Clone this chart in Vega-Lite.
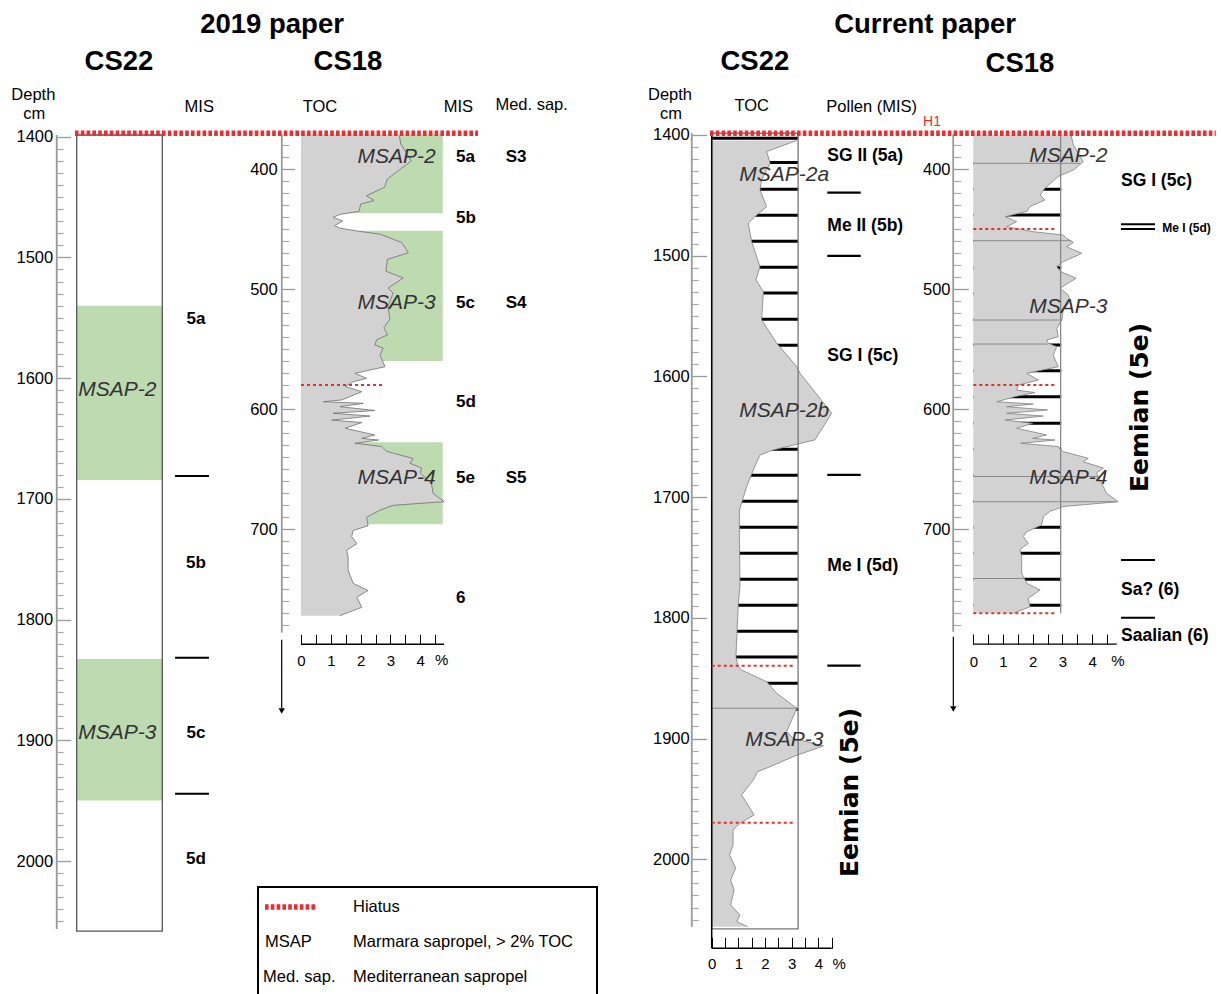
{
"$schema": "https://vega.github.io/schema/vega-lite/v6.json",
"width": 1221, "height": 994,
"autosize": {"type": "none"},
"padding": 0,
"background": "white",
"config": {"view": {"stroke": null}, "text": {"font": "Liberation Sans"}},
"resolve": {"scale": {"x": "independent", "y": "independent"}, "axis": {"x": "independent", "y": "independent"}},
"datasets": {
 "cs18_2019": [
 {"depth": 372, "toc": 3.3}, {"depth": 379, "toc": 3.35}, {"depth": 393, "toc": 3.7}, {"depth": 408, "toc": 2.9}, {"depth": 415, "toc": 2.8}, {"depth": 422, "toc": 2.2}, {"depth": 426, "toc": 2.45}, {"depth": 429, "toc": 2.0}, {"depth": 435, "toc": 1.95}, {"depth": 437.6, "toc": 1.3}, {"depth": 440, "toc": 1.08}, {"depth": 443, "toc": 1.4}, {"depth": 447, "toc": 1.13}, {"depth": 449, "toc": 1.3}, {"depth": 451.5, "toc": 1.9}, {"depth": 454, "toc": 2.65}, {"depth": 461, "toc": 3.38}, {"depth": 469.6, "toc": 3.6}, {"depth": 475, "toc": 2.9}, {"depth": 485, "toc": 2.85}, {"depth": 490.5, "toc": 3.43}, {"depth": 499, "toc": 2.92}, {"depth": 503, "toc": 3.09}, {"depth": 514, "toc": 2.92}, {"depth": 525, "toc": 2.98}, {"depth": 532, "toc": 2.78}, {"depth": 538, "toc": 2.9}, {"depth": 542, "toc": 2.54}, {"depth": 546.4, "toc": 2.48}, {"depth": 549, "toc": 2.76}, {"depth": 554.75, "toc": 2.65}, {"depth": 564.5, "toc": 2.82}, {"depth": 570, "toc": 1.81}, {"depth": 574.2, "toc": 2.2}, {"depth": 577, "toc": 1.76}, {"depth": 581, "toc": 1.48}, {"depth": 585.3, "toc": 2.04}, {"depth": 592.2, "toc": 1.37}, {"depth": 593.7, "toc": 0.75}, {"depth": 595, "toc": 2.09}, {"depth": 597.8, "toc": 1.31}, {"depth": 601, "toc": 2.48}, {"depth": 603.3, "toc": 1.08}, {"depth": 605.6, "toc": 2.32}, {"depth": 609, "toc": 1.03}, {"depth": 611, "toc": 2.04}, {"depth": 615.8, "toc": 1.48}, {"depth": 621.4, "toc": 2.48}, {"depth": 624.2, "toc": 2.04}, {"depth": 625.6, "toc": 2.6}, {"depth": 628.3, "toc": 1.81}, {"depth": 631, "toc": 2.71}, {"depth": 635, "toc": 2.87}, {"depth": 641, "toc": 3.76}, {"depth": 645, "toc": 3.66}, {"depth": 649, "toc": 4.05}, {"depth": 653, "toc": 4.0}, {"depth": 662, "toc": 4.38}, {"depth": 670, "toc": 4.43}, {"depth": 677, "toc": 4.8}, {"depth": 680, "toc": 3.1}, {"depth": 684, "toc": 2.65}, {"depth": 690, "toc": 2.2}, {"depth": 697, "toc": 2.25}, {"depth": 701, "toc": 1.75}, {"depth": 706, "toc": 1.7}, {"depth": 712, "toc": 1.87}, {"depth": 717.5, "toc": 1.53}, {"depth": 723, "toc": 1.58}, {"depth": 734, "toc": 1.58}, {"depth": 745, "toc": 1.75}, {"depth": 751, "toc": 2.25}, {"depth": 756.6, "toc": 1.87}, {"depth": 765, "toc": 2.04}, {"depth": 772, "toc": 1.3}],
 "cs22_now": [
 {"depth": 1404.5, "toc": 3.19}, {"depth": 1413.8, "toc": 2.06}, {"depth": 1423.4, "toc": 2.19}, {"depth": 1437.3, "toc": 1.87}, {"depth": 1445.6, "toc": 1.81}, {"depth": 1459.4, "toc": 2.06}, {"depth": 1466.3, "toc": 1.69}, {"depth": 1473.1, "toc": 1.37}, {"depth": 1488.4, "toc": 1.5}, {"depth": 1509.1, "toc": 1.81}, {"depth": 1520.1, "toc": 1.66}, {"depth": 1529.8, "toc": 1.94}, {"depth": 1553.2, "toc": 1.87}, {"depth": 1572.6, "toc": 2.44}, {"depth": 1591.9, "toc": 3.19}, {"depth": 1597.4, "toc": 3.31}, {"depth": 1611.2, "toc": 3.81}, {"depth": 1630.5, "toc": 4.5}, {"depth": 1652.6, "toc": 3.87}, {"depth": 1660.9, "toc": 2.31}, {"depth": 1665.1, "toc": 1.81}, {"depth": 1677.5, "toc": 1.56}, {"depth": 1691.3, "toc": 1.31}, {"depth": 1710.6, "toc": 1.04}, {"depth": 1732.8, "toc": 1.04}, {"depth": 1774.2, "toc": 1.06}, {"depth": 1787.7, "toc": 1.0}, {"depth": 1815.6, "toc": 0.94}, {"depth": 1832.2, "toc": 0.91}, {"depth": 1840.4, "toc": 0.99}, {"depth": 1843.2, "toc": 1.12}, {"depth": 1852.9, "toc": 2.06}, {"depth": 1862.5, "toc": 2.44}, {"depth": 1874.9, "toc": 3.19}, {"depth": 1884.6, "toc": 3.0}, {"depth": 1894.3, "toc": 2.81}, {"depth": 1899.8, "toc": 3.05}, {"depth": 1906.1, "toc": 4.19}, {"depth": 1915, "toc": 3.05}, {"depth": 1923.3, "toc": 2.19}, {"depth": 1927.4, "toc": 1.72}, {"depth": 1934.3, "toc": 1.56}, {"depth": 1946.7, "toc": 1.12}, {"depth": 1963.3, "toc": 1.59}, {"depth": 1970.2, "toc": 1.06}, {"depth": 1975.7, "toc": 0.8}, {"depth": 1988.2, "toc": 0.8}, {"depth": 1996.5, "toc": 0.67}, {"depth": 2007.4, "toc": 0.9}, {"depth": 2017.1, "toc": 0.71}, {"depth": 2025.4, "toc": 0.84}, {"depth": 2037.9, "toc": 0.71}, {"depth": 2046.2, "toc": 1.06}, {"depth": 2051.7, "toc": 0.94}, {"depth": 2055.8, "toc": 1.35}],
 "cs18_now": [
 {"depth": 371.4, "toc": 3.29}, {"depth": 379.7, "toc": 3.37}, {"depth": 393.7, "toc": 3.7}, {"depth": 400.6, "toc": 3.37}, {"depth": 406, "toc": 2.86}, {"depth": 415.8, "toc": 2.41}, {"depth": 421.4, "toc": 2.25}, {"depth": 425.6, "toc": 2.41}, {"depth": 431, "toc": 1.91}, {"depth": 435, "toc": 1.8}, {"depth": 439.5, "toc": 1.07}, {"depth": 443.7, "toc": 1.46}, {"depth": 447.8, "toc": 1.12}, {"depth": 452, "toc": 2.02}, {"depth": 454.8, "toc": 3.03}, {"depth": 457.5, "toc": 3.14}, {"depth": 461, "toc": 3.37}, {"depth": 464.5, "toc": 3.14}, {"depth": 470, "toc": 3.65}, {"depth": 477, "toc": 3.03}, {"depth": 481, "toc": 2.81}, {"depth": 485, "toc": 2.92}, {"depth": 490.8, "toc": 3.46}, {"depth": 499, "toc": 2.92}, {"depth": 504.8, "toc": 3.2}, {"depth": 510, "toc": 3.26}, {"depth": 517, "toc": 3.03}, {"depth": 525.6, "toc": 2.98}, {"depth": 532.5, "toc": 2.81}, {"depth": 539.5, "toc": 2.86}, {"depth": 542.25, "toc": 2.47}, {"depth": 545, "toc": 2.53}, {"depth": 547.8, "toc": 2.81}, {"depth": 554.75, "toc": 2.69}, {"depth": 564.5, "toc": 2.86}, {"depth": 570, "toc": 1.8}, {"depth": 575.6, "toc": 2.19}, {"depth": 579.75, "toc": 1.52}, {"depth": 584, "toc": 1.46}, {"depth": 586, "toc": 2.08}, {"depth": 589.5, "toc": 1.4}, {"depth": 593.7, "toc": 0.79}, {"depth": 595.6, "toc": 2.02}, {"depth": 597.8, "toc": 1.12}, {"depth": 600.6, "toc": 2.5}, {"depth": 603.3, "toc": 1.12}, {"depth": 605.6, "toc": 2.36}, {"depth": 609, "toc": 1.07}, {"depth": 611.7, "toc": 2.0}, {"depth": 615.8, "toc": 1.46}, {"depth": 621.4, "toc": 2.47}, {"depth": 624.2, "toc": 2.0}, {"depth": 625.6, "toc": 2.75}, {"depth": 628.3, "toc": 1.6}, {"depth": 631, "toc": 2.86}, {"depth": 633, "toc": 2.92}, {"depth": 635.3, "toc": 3.03}, {"depth": 640.8, "toc": 3.87}, {"depth": 643.7, "toc": 3.7}, {"depth": 649, "toc": 4.38}, {"depth": 653, "toc": 4.15}, {"depth": 661.7, "toc": 4.32}, {"depth": 670, "toc": 4.49}, {"depth": 677, "toc": 4.88}, {"depth": 681, "toc": 3.03}, {"depth": 685, "toc": 2.58}, {"depth": 689.5, "toc": 2.36}, {"depth": 696.4, "toc": 2.3}, {"depth": 702, "toc": 1.8}, {"depth": 706, "toc": 1.68}, {"depth": 711.7, "toc": 1.85}, {"depth": 717, "toc": 1.57}, {"depth": 722.8, "toc": 1.63}, {"depth": 736.7, "toc": 1.63}, {"depth": 745, "toc": 1.8}, {"depth": 750.6, "toc": 2.25}, {"depth": 757.5, "toc": 1.85}, {"depth": 764.5, "toc": 1.91}, {"depth": 770, "toc": 1.35}]
},
"layer": [
{"data": {"values": [{"unit": "MSAP-2", "top": 1540, "bottom": 1684.4}, {"unit": "MSAP-3", "top": 1832.7, "bottom": 1949.8}]},
 "mark": {"type": "rect", "color": "#bddab1"},
 "encoding": {"x": {"datum": 0, "type": "quantitative", "scale": {"domain": [-0.896, 13.368], "nice": false, "zero": false}, "axis": null}, "x2": {"datum": 1},
  "y": {"field": "top", "type": "quantitative", "scale": {"domain": [1286.8, 2110.1], "reverse": true, "nice": false, "zero": false}, "axis": null}, "y2": {"field": "bottom"}}},
{"data": {"values": [{"top": 1398.6, "bottom": 2058}]},
 "mark": {"type": "rect", "fillOpacity": 0, "stroke": "#555555", "strokeWidth": 1.3},
 "encoding": {"x": {"datum": 0, "type": "quantitative", "scale": {"domain": [-0.896, 13.368], "nice": false, "zero": false}, "axis": null}, "x2": {"datum": 1},
  "y": {"field": "top", "type": "quantitative", "scale": {"domain": [1286.8, 2110.1], "reverse": true, "nice": false, "zero": false}, "axis": null}, "y2": {"field": "bottom"}}},
{"data": {"values": [{"label": "MSAP-2", "depth": 1609.8}, {"label": "MSAP-3", "depth": 1893.7}]},
 "mark": {"type": "text", "fontStyle": "italic", "fontSize": 21, "color": "#333333", "align": "center", "baseline": "middle"},
 "encoding": {"x": {"datum": 0.475, "type": "quantitative", "scale": {"domain": [-0.896, 13.368], "nice": false, "zero": false}, "axis": null},
  "y": {"field": "depth", "type": "quantitative", "scale": {"domain": [1286.8, 2110.1], "reverse": true, "nice": false, "zero": false}, "axis": null}, "text": {"field": "label"}}},
{"data": {"values": [{"label": "5a", "depth": 1551.3}, {"label": "5b", "depth": 1753.1}, {"label": "5c", "depth": 1893.7}, {"label": "5d", "depth": 1998.6}]},
 "mark": {"type": "text", "fontWeight": "bold", "fontSize": 17, "color": "#000000", "align": "center", "baseline": "middle"},
 "encoding": {"x": {"datum": 1.394, "type": "quantitative", "scale": {"domain": [-0.896, 13.368], "nice": false, "zero": false}, "axis": null},
  "y": {"field": "depth", "type": "quantitative", "scale": {"domain": [1286.8, 2110.1], "reverse": true, "nice": false, "zero": false}, "axis": null}, "text": {"field": "label"}}},
{"data": {"values": [{"depth": 1681.1}, {"depth": 1831.5}, {"depth": 1944.2}]},
 "mark": {"type": "rule", "color": "#000000", "strokeWidth": 2},
 "encoding": {"x": {"datum": 1.149, "type": "quantitative", "scale": {"domain": [-0.896, 13.368], "nice": false, "zero": false}, "axis": null}, "x2": {"datum": 1.545},
  "y": {"field": "depth", "type": "quantitative", "scale": {"domain": [1286.8, 2110.1], "reverse": true, "nice": false, "zero": false}, "axis": null}}},
{"data": {"values": [{"top": 1398.6, "bottom": 2056.3}]},
 "mark": {"type": "rule", "color": "#9a9a9a", "strokeWidth": 1.5},
 "encoding": {"x": {"datum": -0.234, "type": "quantitative", "scale": {"domain": [-0.896, 13.368], "nice": false, "zero": false}, "axis": null},
  "y": {"field": "top", "type": "quantitative", "scale": {"domain": [1286.8, 2110.1], "reverse": true, "nice": false, "zero": false},
   "axis": {"orient": "left", "offset": -56.7, "domain": false, "grid": false, "values": [1400, 1500, 1600, 1700, 1800, 1900, 2000], "tickSize": -14, "tickColor": "#9a9a9a", "tickWidth": 1.3, "labelPadding": 18, "labelFontSize": 16.5, "labelFont": "Liberation Sans", "labelColor": "#000000", "format": "d", "title": null, "labelOverlap": false, "labelFlush": false}},
  "y2": {"field": "bottom"}}},
{"data": {"values": [{"top": 1398.6, "bottom": 2056.3}]},
 "mark": {"type": "rule", "color": "#9a9a9a", "strokeWidth": 1.5},
 "encoding": {"x": {"datum": -0.234, "type": "quantitative", "scale": {"domain": [-0.896, 13.368], "nice": false, "zero": false}, "axis": null},
  "y": {"field": "top", "type": "quantitative", "scale": {"domain": [1286.8, 2110.1], "reverse": true, "nice": false, "zero": false},
   "axis": {"orient": "left", "offset": -56.7, "domain": false, "grid": false, "values": [1410,1420,1430,1440,1450,1460,1470,1480,1490,1510,1520,1530,1540,1550,1560,1570,1580,1590,1610,1620,1630,1640,1650,1660,1670,1680,1690,1710,1720,1730,1740,1750,1760,1770,1780,1790,1810,1820,1830,1840,1850,1860,1870,1880,1890,1910,1920,1930,1940,1950,1960,1970,1980,1990,2010,2020,2030,2040,2050], "tickSize": -6.5, "tickColor": "#aaaaaa", "tickWidth": 1.2, "labels": false, "title": null}},
  "y2": {"field": "bottom"}}},
{"data": {"values": [{"label": "Depth", "pos": -0.507, "depth": 1365.5}, {"label": "cm", "pos": -0.495, "depth": 1381.4}, {"label": "MIS", "pos": 1.432, "depth": 1375.1}, {"label": "TOC", "pos": 2.842, "depth": 1375.1}, {"label": "MIS", "pos": 4.458, "depth": 1375.1}, {"label": "Med. sap.", "pos": 5.315, "depth": 1373.7}]},
 "mark": {"type": "text", "fontSize": 16.5, "color": "#000000", "align": "center", "baseline": "middle"},
 "encoding": {"x": {"field": "pos", "type": "quantitative", "scale": {"domain": [-0.896, 13.368], "nice": false, "zero": false}, "axis": null},
  "y": {"field": "depth", "type": "quantitative", "scale": {"domain": [1286.8, 2110.1], "reverse": true, "nice": false, "zero": false}, "axis": null}, "text": {"field": "label"}}},
{"data": {"values": [{"label": "2019 paper", "pos": 2.282, "depth": 1307.5}, {"label": "CS22", "pos": 0.494, "depth": 1338.1}, {"label": "CS18", "pos": 3.169, "depth": 1338.1}]},
 "mark": {"type": "text", "fontWeight": "bold", "fontSize": 27.5, "color": "#000000", "align": "center", "baseline": "middle"},
 "encoding": {"x": {"field": "pos", "type": "quantitative", "scale": {"domain": [-0.896, 13.368], "nice": false, "zero": false}, "axis": null},
  "y": {"field": "depth", "type": "quantitative", "scale": {"domain": [1286.8, 2110.1], "reverse": true, "nice": false, "zero": false}, "axis": null}, "text": {"field": "label"}}},

{"data": {"values": [{"unit": "MSAP-2", "top": 371, "bottom": 436.7}, {"unit": "MSAP-3", "top": 451.2, "bottom": 559.75}, {"unit": "MSAP-4", "top": 627.5, "bottom": 695.8}]},
 "mark": {"type": "rect", "color": "#bddab1"},
 "encoding": {"x": {"datum": 0, "type": "quantitative", "scale": {"domain": [-10.101, 30.872], "nice": false, "zero": false}, "axis": null}, "x2": {"datum": 4.755},
  "y": {"field": "top", "type": "quantitative", "scale": {"domain": [258.9, 1087.25], "reverse": true, "nice": false, "zero": false}, "axis": null}, "y2": {"field": "bottom"}}},
{"data": {"name": "cs18_2019"},
 "mark": {"type": "area", "orient": "horizontal", "color": "#d2d2d2", "opacity": 1},
 "encoding": {"x": {"field": "toc", "type": "quantitative", "scale": {"domain": [-10.101, 30.872], "nice": false, "zero": false}, "axis": null},
  "y": {"field": "depth", "type": "quantitative", "scale": {"domain": [258.9, 1087.25], "reverse": true, "nice": false, "zero": false}, "axis": null}}},
{"data": {"name": "cs18_2019"},
 "mark": {"type": "line", "color": "#707070", "strokeWidth": 0.8},
 "encoding": {"x": {"field": "toc", "type": "quantitative", "scale": {"domain": [-10.101, 30.872], "nice": false, "zero": false}, "axis": null},
  "y": {"field": "depth", "type": "quantitative", "scale": {"domain": [258.9, 1087.25], "reverse": true, "nice": false, "zero": false}, "axis": null},
  "order": {"field": "depth", "type": "quantitative"}}},
{"data": {"values": [{"depth": 579.75}]},
 "mark": {"type": "rule", "color": "#e8302a", "strokeWidth": 2, "strokeDash": [3, 3]},
 "encoding": {"x": {"datum": 0, "type": "quantitative", "scale": {"domain": [-10.101, 30.872], "nice": false, "zero": false}, "axis": null}, "x2": {"datum": 2.79},
  "y": {"field": "depth", "type": "quantitative", "scale": {"domain": [258.9, 1087.25], "reverse": true, "nice": false, "zero": false}, "axis": null}}},
{"data": {"values": [{"label": "MSAP-2", "depth": 390}, {"label": "MSAP-3", "depth": 511.7}, {"label": "MSAP-4", "depth": 657.5}]},
 "mark": {"type": "text", "fontStyle": "italic", "fontSize": 21, "color": "#333333", "align": "center", "baseline": "middle"},
 "encoding": {"x": {"datum": 3.21, "type": "quantitative", "scale": {"domain": [-10.101, 30.872], "nice": false, "zero": false}, "axis": null},
  "y": {"field": "depth", "type": "quantitative", "scale": {"domain": [258.9, 1087.25], "reverse": true, "nice": false, "zero": false}, "axis": null}, "text": {"field": "label"}}},
{"data": {"values": [{"label": "5a", "depth": 390}, {"label": "5b", "depth": 440.8}, {"label": "5c", "depth": 511.7}, {"label": "5d", "depth": 594.2}, {"label": "5e", "depth": 657.5}, {"label": "6", "depth": 757.5}]},
 "mark": {"type": "text", "fontWeight": "bold", "fontSize": 17, "color": "#000000", "align": "left", "baseline": "middle"},
 "encoding": {"x": {"datum": 5.201, "type": "quantitative", "scale": {"domain": [-10.101, 30.872], "nice": false, "zero": false}, "axis": null},
  "y": {"field": "depth", "type": "quantitative", "scale": {"domain": [258.9, 1087.25], "reverse": true, "nice": false, "zero": false}, "axis": null}, "text": {"field": "label"}}},
{"data": {"values": [{"label": "S3", "depth": 390}, {"label": "S4", "depth": 511.7}, {"label": "S5", "depth": 657.5}]},
 "mark": {"type": "text", "fontWeight": "bold", "fontSize": 17, "color": "#000000", "align": "center", "baseline": "middle"},
 "encoding": {"x": {"datum": 7.215, "type": "quantitative", "scale": {"domain": [-10.101, 30.872], "nice": false, "zero": false}, "axis": null},
  "y": {"field": "depth", "type": "quantitative", "scale": {"domain": [258.9, 1087.25], "reverse": true, "nice": false, "zero": false}, "axis": null}, "text": {"field": "label"}}},
{"data": {"values": [{"top": 371, "bottom": 786}]},
 "mark": {"type": "rule", "color": "#9a9a9a", "strokeWidth": 1.5},
 "encoding": {"x": {"datum": -0.648, "type": "quantitative", "scale": {"domain": [-10.101, 30.872], "nice": false, "zero": false}, "axis": null},
  "y": {"field": "top", "type": "quantitative", "scale": {"domain": [258.9, 1087.25], "reverse": true, "nice": false, "zero": false},
   "axis": {"orient": "left", "offset": -281.7, "domain": false, "grid": false, "values": [400, 500, 600, 700], "tickSize": -13, "tickColor": "#9a9a9a", "tickWidth": 1.3, "labelPadding": 17.5, "labelFontSize": 16.5, "labelFont": "Liberation Sans", "labelColor": "#000000", "format": "d", "title": null, "labelOverlap": false, "labelFlush": false}},
  "y2": {"field": "bottom"}}},
{"data": {"values": [{"top": 371, "bottom": 786}]},
 "mark": {"type": "rule", "color": "#9a9a9a", "strokeWidth": 1.5},
 "encoding": {"x": {"datum": -0.648, "type": "quantitative", "scale": {"domain": [-10.101, 30.872], "nice": false, "zero": false}, "axis": null},
  "y": {"field": "top", "type": "quantitative", "scale": {"domain": [258.9, 1087.25], "reverse": true, "nice": false, "zero": false},
   "axis": {"orient": "left", "offset": -281.7, "domain": false, "grid": false, "values": [380,390,410,420,430,440,450,460,470,480,490,510,520,530,540,550,560,570,580,590,610,620,630,640,650,660,670,680,690,710,720,730,740,750,760,770,780], "tickSize": -7, "tickColor": "#aaaaaa", "tickWidth": 1.2, "labels": false, "title": null}},
  "y2": {"field": "bottom"}}},
{"data": {"values": [{"from": 0, "to": 4.8, "depth": 795.8}]},
 "mark": {"type": "rule", "color": "#000000", "strokeWidth": 1.3},
 "encoding": {"x": {"field": "from", "type": "quantitative", "scale": {"domain": [-10.101, 30.872], "nice": false, "zero": false},
   "axis": {"orient": "bottom", "offset": -349.7, "domain": false, "grid": false, "values": [0, 0.5, 1, 1.5, 2, 2.5, 3, 3.5, 4, 4.5], "tickSize": -10, "tickColor": "#000000", "tickWidth": 1, "labelPadding": 19.2, "labelFontSize": 15, "labelFont": "Liberation Sans", "labelColor": "#000000", "labelExpr": "datum.value % 1 === 0 ? format(datum.value, 'd') : ''", "title": null, "labelOverlap": false, "labelFlush": false}},
  "x2": {"field": "to"},
  "y": {"field": "depth", "type": "quantitative", "scale": {"domain": [258.9, 1087.25], "reverse": true, "nice": false, "zero": false}, "axis": null}}},
{"data": {"values": [{"label": "%", "depth": 809.3}]},
 "mark": {"type": "text", "fontSize": 15, "color": "#000000", "align": "center", "baseline": "middle"},
 "encoding": {"x": {"datum": 4.72, "type": "quantitative", "scale": {"domain": [-10.101, 30.872], "nice": false, "zero": false}, "axis": null},
  "y": {"field": "depth", "type": "quantitative", "scale": {"domain": [258.9, 1087.25], "reverse": true, "nice": false, "zero": false}, "axis": null}, "text": {"field": "label"}}},
{"data": {"values": [{"top": 792, "bottom": 849}]},
 "mark": {"type": "rule", "color": "#000000", "strokeWidth": 1.2},
 "encoding": {"x": {"datum": -0.648, "type": "quantitative", "scale": {"domain": [-10.101, 30.872], "nice": false, "zero": false}, "axis": null},
  "y": {"field": "top", "type": "quantitative", "scale": {"domain": [258.9, 1087.25], "reverse": true, "nice": false, "zero": false}, "axis": null}, "y2": {"field": "bottom"}}},
{"data": {"values": [{"depth": 851.4}]},
 "mark": {"type": "point", "shape": "triangle-down", "filled": true, "size": 40, "color": "#000000", "opacity": 1},
 "encoding": {"x": {"datum": -0.648, "type": "quantitative", "scale": {"domain": [-10.101, 30.872], "nice": false, "zero": false}, "axis": null},
  "y": {"field": "depth", "type": "quantitative", "scale": {"domain": [258.9, 1087.25], "reverse": true, "nice": false, "zero": false}, "axis": null}}},

{"data": {"values": [{"depth": 1402.7}, {"depth": 1422.9}, {"depth": 1445.0}, {"depth": 1466.5}, {"depth": 1488.1}, {"depth": 1509.6}, {"depth": 1530.9}, {"depth": 1552.7}, {"depth": 1574.2}, {"depth": 1595.5}, {"depth": 1617.1}, {"depth": 1638.6}, {"depth": 1660.4}, {"depth": 1681.9}, {"depth": 1703.4}, {"depth": 1725.0}, {"depth": 1746.5}, {"depth": 1768.0}, {"depth": 1789.6}, {"depth": 1811.1}, {"depth": 1832.4}, {"depth": 1854.2}, {"depth": 1875.7}]},
 "mark": {"type": "rule", "color": "#000000", "strokeWidth": 3},
 "encoding": {"x": {"datum": 0, "type": "quantitative", "scale": {"domain": [-26.686, 19.097], "nice": false, "zero": false}, "axis": null}, "x2": {"datum": 3.24},
  "y": {"field": "depth", "type": "quantitative", "scale": {"domain": [1288.2, 2111.6], "reverse": true, "nice": false, "zero": false}, "axis": null}}},
{"data": {"name": "cs22_now"},
 "mark": {"type": "area", "orient": "horizontal", "color": "#d2d2d2", "opacity": 1},
 "encoding": {"x": {"field": "toc", "type": "quantitative", "scale": {"domain": [-26.686, 19.097], "nice": false, "zero": false}, "axis": null},
  "y": {"field": "depth", "type": "quantitative", "scale": {"domain": [1288.2, 2111.6], "reverse": true, "nice": false, "zero": false}, "axis": null}}},
{"data": {"name": "cs22_now"},
 "mark": {"type": "line", "color": "#808080", "strokeWidth": 0.8},
 "encoding": {"x": {"field": "toc", "type": "quantitative", "scale": {"domain": [-26.686, 19.097], "nice": false, "zero": false}, "axis": null},
  "y": {"field": "depth", "type": "quantitative", "scale": {"domain": [1288.2, 2111.6], "reverse": true, "nice": false, "zero": false}, "axis": null},
  "order": {"field": "depth", "type": "quantitative"}}},
{"data": {"values": [{"depth": 1874.9, "toc": 3.19}]},
 "mark": {"type": "rule", "color": "#8a8a8a", "strokeWidth": 1},
 "encoding": {"x": {"field": "toc", "type": "quantitative", "scale": {"domain": [-26.686, 19.097], "nice": false, "zero": false}, "axis": null}, "x2": {"datum": 0},
  "y": {"field": "depth", "type": "quantitative", "scale": {"domain": [1288.2, 2111.6], "reverse": true, "nice": false, "zero": false}, "axis": null}}},
{"data": {"values": [{"top": 1398.6, "bottom": 2057.7}]},
 "mark": {"type": "rect", "fillOpacity": 0, "stroke": "#777777", "strokeWidth": 1.3},
 "encoding": {"x": {"datum": 0, "type": "quantitative", "scale": {"domain": [-26.686, 19.097], "nice": false, "zero": false}, "axis": null}, "x2": {"datum": 3.24},
  "y": {"field": "top", "type": "quantitative", "scale": {"domain": [1288.2, 2111.6], "reverse": true, "nice": false, "zero": false}, "axis": null}, "y2": {"field": "bottom"}}},
{"data": {"values": [{"top": 1398.6, "bottom": 2073.7}]},
 "mark": {"type": "rule", "color": "#000000", "strokeWidth": 1.5},
 "encoding": {"x": {"datum": 0, "type": "quantitative", "scale": {"domain": [-26.686, 19.097], "nice": false, "zero": false}, "axis": null},
  "y": {"field": "top", "type": "quantitative", "scale": {"domain": [1288.2, 2111.6], "reverse": true, "nice": false, "zero": false}, "axis": null}, "y2": {"field": "bottom"}}},
{"data": {"values": [{"depth": 1839.6}, {"depth": 1969.7}]},
 "mark": {"type": "rule", "color": "#e8302a", "strokeWidth": 2, "strokeDash": [3, 3]},
 "encoding": {"x": {"datum": 0, "type": "quantitative", "scale": {"domain": [-26.686, 19.097], "nice": false, "zero": false}, "axis": null}, "x2": {"datum": 3.12},
  "y": {"field": "depth", "type": "quantitative", "scale": {"domain": [1288.2, 2111.6], "reverse": true, "nice": false, "zero": false}, "axis": null}}},
{"data": {"values": [{"label": "MSAP-2a", "depth": 1433.1}, {"label": "MSAP-2b", "depth": 1628.4}, {"label": "MSAP-3", "depth": 1901.2}]},
 "mark": {"type": "text", "fontStyle": "italic", "fontSize": 21, "color": "#333333", "align": "center", "baseline": "middle"},
 "encoding": {"x": {"datum": 2.72, "type": "quantitative", "scale": {"domain": [-26.686, 19.097], "nice": false, "zero": false}, "axis": null},
  "y": {"field": "depth", "type": "quantitative", "scale": {"domain": [1288.2, 2111.6], "reverse": true, "nice": false, "zero": false}, "axis": null}, "text": {"field": "label"}}},
{"data": {"values": [{"label": "SG II (5a)", "depth": 1417.4}, {"label": "Me II (5b)", "depth": 1475.4}, {"label": "SG I (5c)", "depth": 1583.1}, {"label": "Me I (5d)", "depth": 1757}]},
 "mark": {"type": "text", "fontWeight": "bold", "fontSize": 17.5, "color": "#000000", "align": "left", "baseline": "middle"},
 "encoding": {"x": {"datum": 4.335, "type": "quantitative", "scale": {"domain": [-26.686, 19.097], "nice": false, "zero": false}, "axis": null},
  "y": {"field": "depth", "type": "quantitative", "scale": {"domain": [1288.2, 2111.6], "reverse": true, "nice": false, "zero": false}, "axis": null}, "text": {"field": "label"}}},
{"data": {"values": [{"depth": 1447.8}, {"depth": 1500.2}, {"depth": 1681.6}, {"depth": 1839.6}]},
 "mark": {"type": "rule", "color": "#000000", "strokeWidth": 2.2},
 "encoding": {"x": {"datum": 4.335, "type": "quantitative", "scale": {"domain": [-26.686, 19.097], "nice": false, "zero": false}, "axis": null}, "x2": {"datum": 5.587},
  "y": {"field": "depth", "type": "quantitative", "scale": {"domain": [1288.2, 2111.6], "reverse": true, "nice": false, "zero": false}, "axis": null}}},
{"data": {"values": [{"label": "Eemian (5e)", "depth": 1944.6}]},
 "mark": {"type": "text", "angle": 270, "font": "DejaVu Sans", "fontWeight": "bold", "fontSize": 25, "color": "#000000", "align": "center", "baseline": "middle"},
 "encoding": {"x": {"datum": 5.186, "type": "quantitative", "scale": {"domain": [-26.686, 19.097], "nice": false, "zero": false}, "axis": null},
  "y": {"field": "depth", "type": "quantitative", "scale": {"domain": [1288.2, 2111.6], "reverse": true, "nice": false, "zero": false}, "axis": null}, "text": {"field": "label"}}},
{"data": {"values": [{"top": 1398.6, "bottom": 2055.8}]},
 "mark": {"type": "rule", "color": "#9a9a9a", "strokeWidth": 1.5},
 "encoding": {"x": {"datum": -0.75, "type": "quantitative", "scale": {"domain": [-26.686, 19.097], "nice": false, "zero": false}, "axis": null},
  "y": {"field": "top", "type": "quantitative", "scale": {"domain": [1288.2, 2111.6], "reverse": true, "nice": false, "zero": false},
   "axis": {"orient": "left", "offset": -691.7, "domain": false, "grid": false, "values": [1400, 1500, 1600, 1700, 1800, 1900, 2000], "tickSize": -15, "tickColor": "#9a9a9a", "tickWidth": 1.3, "labelPadding": 17.5, "labelFontSize": 16.5, "labelFont": "Liberation Sans", "labelColor": "#000000", "format": "d", "title": null, "labelOverlap": false, "labelFlush": false}},
  "y2": {"field": "bottom"}}},
{"data": {"values": [{"top": 1398.6, "bottom": 2055.8}]},
 "mark": {"type": "rule", "color": "#9a9a9a", "strokeWidth": 1.5},
 "encoding": {"x": {"datum": -0.75, "type": "quantitative", "scale": {"domain": [-26.686, 19.097], "nice": false, "zero": false}, "axis": null},
  "y": {"field": "top", "type": "quantitative", "scale": {"domain": [1288.2, 2111.6], "reverse": true, "nice": false, "zero": false},
   "axis": {"orient": "left", "offset": -691.7, "domain": false, "grid": false, "values": [1410,1420,1430,1440,1450,1460,1470,1480,1490,1510,1520,1530,1540,1550,1560,1570,1580,1590,1610,1620,1630,1640,1650,1660,1670,1680,1690,1710,1720,1730,1740,1750,1760,1770,1780,1790,1810,1820,1830,1840,1850,1860,1870,1880,1890,1910,1920,1930,1940,1950,1960,1970,1980,1990,2010,2020,2030,2040,2050], "tickSize": -6.5, "tickColor": "#aaaaaa", "tickWidth": 1.2, "labels": false, "title": null}},
  "y2": {"field": "bottom"}}},
{"data": {"values": [{"from": 0, "to": 4.5, "depth": 2073.7}]},
 "mark": {"type": "rule", "color": "#000000", "strokeWidth": 1.3},
 "encoding": {"x": {"field": "from", "type": "quantitative", "scale": {"domain": [-26.686, 19.097], "nice": false, "zero": false},
   "axis": {"orient": "bottom", "offset": -45.7, "domain": false, "grid": false, "values": [0, 0.5, 1, 1.5, 2, 2.5, 3, 3.5, 4, 4.5], "tickSize": -11, "tickColor": "#000000", "tickWidth": 1, "labelPadding": 19.6, "labelFontSize": 15, "labelFont": "Liberation Sans", "labelColor": "#000000", "labelExpr": "datum.value % 1 === 0 ? format(datum.value, 'd') : ''", "title": null, "labelOverlap": false, "labelFlush": false}},
  "x2": {"field": "to"},
  "y": {"field": "depth", "type": "quantitative", "scale": {"domain": [1288.2, 2111.6], "reverse": true, "nice": false, "zero": false}, "axis": null}}},
{"data": {"values": [{"label": "%", "depth": 2086.5}]},
 "mark": {"type": "text", "fontSize": 15, "color": "#000000", "align": "center", "baseline": "middle"},
 "encoding": {"x": {"datum": 4.78, "type": "quantitative", "scale": {"domain": [-26.686, 19.097], "nice": false, "zero": false}, "axis": null},
  "y": {"field": "depth", "type": "quantitative", "scale": {"domain": [1288.2, 2111.6], "reverse": true, "nice": false, "zero": false}, "axis": null}, "text": {"field": "label"}}},
{"data": {"values": [{"label": "Depth", "pos": -1.564, "depth": 1366.9}, {"label": "cm", "pos": -1.527, "depth": 1382.9}, {"label": "TOC", "pos": 1.5, "depth": 1376}, {"label": "Pollen (MIS)", "pos": 6.0, "depth": 1376.6}]},
 "mark": {"type": "text", "fontSize": 16.5, "color": "#000000", "align": "center", "baseline": "middle"},
 "encoding": {"x": {"field": "pos", "type": "quantitative", "scale": {"domain": [-26.686, 19.097], "nice": false, "zero": false}, "axis": null},
  "y": {"field": "depth", "type": "quantitative", "scale": {"domain": [1288.2, 2111.6], "reverse": true, "nice": false, "zero": false}, "axis": null}, "text": {"field": "label"}}},
{"data": {"values": [{"label": "Current paper", "pos": 8.0, "depth": 1308.9}, {"label": "CS22", "pos": 1.62, "depth": 1339.5}, {"label": "CS18", "pos": 11.56, "depth": 1341.2}]},
 "mark": {"type": "text", "fontWeight": "bold", "fontSize": 27.5, "color": "#000000", "align": "center", "baseline": "middle"},
 "encoding": {"x": {"field": "pos", "type": "quantitative", "scale": {"domain": [-26.686, 19.097], "nice": false, "zero": false}, "axis": null},
  "y": {"field": "depth", "type": "quantitative", "scale": {"domain": [1288.2, 2111.6], "reverse": true, "nice": false, "zero": false}, "axis": null}, "text": {"field": "label"}}},

{"data": {"values": [{"depth": 395}, {"depth": 416.7}, {"depth": 438.1}, {"depth": 459.8}, {"depth": 482}, {"depth": 503.6}, {"depth": 525.2}, {"depth": 546.4}, {"depth": 567.8}, {"depth": 589.5}, {"depth": 611.7}, {"depth": 633.3}, {"depth": 655}, {"depth": 676.6}, {"depth": 698.3}, {"depth": 720}, {"depth": 741.7}, {"depth": 763.3}]},
 "mark": {"type": "rule", "color": "#000000", "strokeWidth": 3},
 "encoding": {"x": {"datum": 0, "type": "quantitative", "scale": {"domain": [-32.771, 8.34], "nice": false, "zero": false}, "axis": null}, "x2": {"datum": 2.96},
  "y": {"field": "depth", "type": "quantitative", "scale": {"domain": [258.9, 1087.25], "reverse": true, "nice": false, "zero": false}, "axis": null}}},
{"data": {"name": "cs18_now"},
 "mark": {"type": "area", "orient": "horizontal", "color": "#d2d2d2", "opacity": 1},
 "encoding": {"x": {"field": "toc", "type": "quantitative", "scale": {"domain": [-32.771, 8.34], "nice": false, "zero": false}, "axis": null},
  "y": {"field": "depth", "type": "quantitative", "scale": {"domain": [258.9, 1087.25], "reverse": true, "nice": false, "zero": false}, "axis": null}}},
{"data": {"name": "cs18_now"},
 "mark": {"type": "line", "color": "#808080", "strokeWidth": 0.8},
 "encoding": {"x": {"field": "toc", "type": "quantitative", "scale": {"domain": [-32.771, 8.34], "nice": false, "zero": false}, "axis": null},
  "y": {"field": "depth", "type": "quantitative", "scale": {"domain": [258.9, 1087.25], "reverse": true, "nice": false, "zero": false}, "axis": null},
  "order": {"field": "depth", "type": "quantitative"}}},
{"data": {"values": [{"depth": 395, "toc": 3.6}, {"depth": 459.5, "toc": 3.3}, {"depth": 525.6, "toc": 2.98}, {"depth": 545.6, "toc": 2.5}, {"depth": 656, "toc": 4.2}, {"depth": 677, "toc": 4.8}, {"depth": 741, "toc": 1.7}]},
 "mark": {"type": "rule", "color": "#8a8a8a", "strokeWidth": 1},
 "encoding": {"x": {"field": "toc", "type": "quantitative", "scale": {"domain": [-32.771, 8.34], "nice": false, "zero": false}, "axis": null}, "x2": {"datum": 0},
  "y": {"field": "depth", "type": "quantitative", "scale": {"domain": [258.9, 1087.25], "reverse": true, "nice": false, "zero": false}, "axis": null}}},
{"data": {"values": [{"top": 372, "bottom": 770}]},
 "mark": {"type": "rule", "color": "#888888", "strokeWidth": 1.3},
 "encoding": {"x": {"datum": 2.94, "type": "quantitative", "scale": {"domain": [-32.771, 8.34], "nice": false, "zero": false}, "axis": null},
  "y": {"field": "top", "type": "quantitative", "scale": {"domain": [258.9, 1087.25], "reverse": true, "nice": false, "zero": false}, "axis": null}, "y2": {"field": "bottom"}}},
{"data": {"values": [{"depth": 449.8}, {"depth": 579.75}, {"depth": 770}]},
 "mark": {"type": "rule", "color": "#e8302a", "strokeWidth": 2, "strokeDash": [3, 3]},
 "encoding": {"x": {"datum": 0, "type": "quantitative", "scale": {"domain": [-32.771, 8.34], "nice": false, "zero": false}, "axis": null}, "x2": {"datum": 2.81},
  "y": {"field": "depth", "type": "quantitative", "scale": {"domain": [258.9, 1087.25], "reverse": true, "nice": false, "zero": false}, "axis": null}}},
{"data": {"values": [{"label": "MSAP-2", "depth": 388.9}, {"label": "MSAP-3", "depth": 514.5}, {"label": "MSAP-4", "depth": 657.5}]},
 "mark": {"type": "text", "fontStyle": "italic", "fontSize": 21, "color": "#333333", "align": "center", "baseline": "middle"},
 "encoding": {"x": {"datum": 3.2, "type": "quantitative", "scale": {"domain": [-32.771, 8.34], "nice": false, "zero": false}, "axis": null},
  "y": {"field": "depth", "type": "quantitative", "scale": {"domain": [258.9, 1087.25], "reverse": true, "nice": false, "zero": false}, "axis": null}, "text": {"field": "label"}}},
{"data": {"values": [{"label": "SG I (5c)", "depth": 409.75}, {"label": "Sa? (6)", "depth": 750.6}, {"label": "Saalian (6)", "depth": 788.7}]},
 "mark": {"type": "text", "fontWeight": "bold", "fontSize": 17.5, "color": "#000000", "align": "left", "baseline": "middle"},
 "encoding": {"x": {"datum": 4.973, "type": "quantitative", "scale": {"domain": [-32.771, 8.34], "nice": false, "zero": false}, "axis": null},
  "y": {"field": "depth", "type": "quantitative", "scale": {"domain": [258.9, 1087.25], "reverse": true, "nice": false, "zero": false}, "axis": null}, "text": {"field": "label"}}},
{"data": {"values": [{"label": "Me I (5d)", "depth": 449.2}]},
 "mark": {"type": "text", "fontWeight": "bold", "fontSize": 12, "color": "#000000", "align": "left", "baseline": "middle"},
 "encoding": {"x": {"datum": 6.36, "type": "quantitative", "scale": {"domain": [-32.771, 8.34], "nice": false, "zero": false}, "axis": null},
  "y": {"field": "depth", "type": "quantitative", "scale": {"domain": [258.9, 1087.25], "reverse": true, "nice": false, "zero": false}, "axis": null}, "text": {"field": "label"}}},
{"data": {"values": [{"depth": 445.8}, {"depth": 449.75}, {"depth": 725.6}, {"depth": 773.7}]},
 "mark": {"type": "rule", "color": "#000000", "strokeWidth": 2},
 "encoding": {"x": {"datum": 4.973, "type": "quantitative", "scale": {"domain": [-32.771, 8.34], "nice": false, "zero": false}, "axis": null}, "x2": {"datum": 6.118},
  "y": {"field": "depth", "type": "quantitative", "scale": {"domain": [258.9, 1087.25], "reverse": true, "nice": false, "zero": false}, "axis": null}}},
{"data": {"values": [{"label": "Eemian (5e)", "depth": 598.5}]},
 "mark": {"type": "text", "angle": 270, "font": "DejaVu Sans", "fontWeight": "bold", "fontSize": 25, "color": "#000000", "align": "center", "baseline": "middle"},
 "encoding": {"x": {"datum": 5.613, "type": "quantitative", "scale": {"domain": [-32.771, 8.34], "nice": false, "zero": false}, "axis": null},
  "y": {"field": "depth", "type": "quantitative", "scale": {"domain": [258.9, 1087.25], "reverse": true, "nice": false, "zero": false}, "axis": null}, "text": {"field": "label"}}},
{"data": {"values": [{"top": 371, "bottom": 785.3}]},
 "mark": {"type": "rule", "color": "#9a9a9a", "strokeWidth": 1.5},
 "encoding": {"x": {"datum": -0.673, "type": "quantitative", "scale": {"domain": [-32.771, 8.34], "nice": false, "zero": false}, "axis": null},
  "y": {"field": "top", "type": "quantitative", "scale": {"domain": [258.9, 1087.25], "reverse": true, "nice": false, "zero": false},
   "axis": {"orient": "left", "offset": -953.3, "domain": false, "grid": false, "values": [400, 500, 600, 700], "tickSize": -15, "tickColor": "#9a9a9a", "tickWidth": 1.3, "labelPadding": 18.3, "labelFontSize": 16.5, "labelFont": "Liberation Sans", "labelColor": "#000000", "format": "d", "title": null, "labelOverlap": false, "labelFlush": false}},
  "y2": {"field": "bottom"}}},
{"data": {"values": [{"top": 371, "bottom": 785.3}]},
 "mark": {"type": "rule", "color": "#9a9a9a", "strokeWidth": 1.5},
 "encoding": {"x": {"datum": -0.673, "type": "quantitative", "scale": {"domain": [-32.771, 8.34], "nice": false, "zero": false}, "axis": null},
  "y": {"field": "top", "type": "quantitative", "scale": {"domain": [258.9, 1087.25], "reverse": true, "nice": false, "zero": false},
   "axis": {"orient": "left", "offset": -953.3, "domain": false, "grid": false, "values": [380,390,410,420,430,440,450,460,470,480,490,510,520,530,540,550,560,570,580,590,610,620,630,640,650,660,670,680,690,710,720,730,740,750,760,770,780], "tickSize": -7.4, "tickColor": "#aaaaaa", "tickWidth": 1.2, "labels": false, "title": null}},
  "y2": {"field": "bottom"}}},
{"data": {"values": [{"from": 0, "to": 4.83, "depth": 795.6}]},
 "mark": {"type": "rule", "color": "#000000", "strokeWidth": 1.3},
 "encoding": {"x": {"field": "from", "type": "quantitative", "scale": {"domain": [-32.771, 8.34], "nice": false, "zero": false},
   "axis": {"orient": "bottom", "offset": -350, "domain": false, "grid": false, "values": [0, 0.5, 1, 1.5, 2, 2.5, 3, 3.5, 4, 4.5], "tickSize": -10, "tickColor": "#000000", "tickWidth": 1, "labelPadding": 20.5, "labelFontSize": 15, "labelFont": "Liberation Sans", "labelColor": "#000000", "labelExpr": "datum.value % 1 === 0 ? format(datum.value, 'd') : ''", "title": null, "labelOverlap": false, "labelFlush": false}},
  "x2": {"field": "to"},
  "y": {"field": "depth", "type": "quantitative", "scale": {"domain": [258.9, 1087.25], "reverse": true, "nice": false, "zero": false}, "axis": null}}},
{"data": {"values": [{"label": "%", "depth": 809.75}]},
 "mark": {"type": "text", "fontSize": 15, "color": "#000000", "align": "center", "baseline": "middle"},
 "encoding": {"x": {"datum": 4.87, "type": "quantitative", "scale": {"domain": [-32.771, 8.34], "nice": false, "zero": false}, "axis": null},
  "y": {"field": "depth", "type": "quantitative", "scale": {"domain": [258.9, 1087.25], "reverse": true, "nice": false, "zero": false}, "axis": null}, "text": {"field": "label"}}},
{"data": {"values": [{"top": 789.5, "bottom": 847.5}]},
 "mark": {"type": "rule", "color": "#000000", "strokeWidth": 1.2},
 "encoding": {"x": {"datum": -0.673, "type": "quantitative", "scale": {"domain": [-32.771, 8.34], "nice": false, "zero": false}, "axis": null},
  "y": {"field": "top", "type": "quantitative", "scale": {"domain": [258.9, 1087.25], "reverse": true, "nice": false, "zero": false}, "axis": null}, "y2": {"field": "bottom"}}},
{"data": {"values": [{"depth": 849.75}]},
 "mark": {"type": "point", "shape": "triangle-down", "filled": true, "size": 40, "color": "#000000", "opacity": 1},
 "encoding": {"x": {"datum": -0.673, "type": "quantitative", "scale": {"domain": [-32.771, 8.34], "nice": false, "zero": false}, "axis": null},
  "y": {"field": "depth", "type": "quantitative", "scale": {"domain": [258.9, 1087.25], "reverse": true, "nice": false, "zero": false}, "axis": null}}},

{"data": {"values": [{"depth": 1397.2}]},
 "mark": {"type": "rule", "color": "#ee2b2d", "strokeWidth": 5.5, "strokeDash": [3.6, 2.2]},
 "encoding": {"x": {"datum": -0.02, "type": "quantitative", "scale": {"domain": [-0.896, 13.368], "nice": false, "zero": false}, "axis": null}, "x2": {"datum": 4.688},
  "y": {"field": "depth", "type": "quantitative", "scale": {"domain": [1286.8, 2110.1], "reverse": true, "nice": false, "zero": false}, "axis": null}}},
{"data": {"values": [{"depth": 1398.6}]},
 "mark": {"type": "rule", "color": "#ee2b2d", "strokeWidth": 5.5, "strokeDash": [3.6, 2.2]},
 "encoding": {"x": {"datum": -0.064, "type": "quantitative", "scale": {"domain": [-26.686, 19.097], "nice": false, "zero": false}, "axis": null}, "x2": {"datum": 18.9},
  "y": {"field": "depth", "type": "quantitative", "scale": {"domain": [1288.2, 2111.6], "reverse": true, "nice": false, "zero": false}, "axis": null}}},
{"data": {"values": [{"label": "H1", "depth": 1389.2}]},
 "mark": {"type": "text", "fontSize": 14, "color": "#ee2b2d", "align": "center", "baseline": "middle"},
 "encoding": {"x": {"datum": 8.26, "type": "quantitative", "scale": {"domain": [-26.686, 19.097], "nice": false, "zero": false}, "axis": null},
  "y": {"field": "depth", "type": "quantitative", "scale": {"domain": [1288.2, 2111.6], "reverse": true, "nice": false, "zero": false}, "axis": null}, "text": {"field": "label"}}},

{"data": {"values": [{"top": 998.1, "bottom": 1095}]},
 "mark": {"type": "rect", "fillOpacity": 0, "stroke": "#000000", "strokeWidth": 2},
 "encoding": {"x": {"datum": -1.443, "type": "quantitative", "scale": {"domain": [-10.101, 30.872], "nice": false, "zero": false}, "axis": null}, "x2": {"datum": 9.933},
  "y": {"field": "top", "type": "quantitative", "scale": {"domain": [258.9, 1087.25], "reverse": true, "nice": false, "zero": false}, "axis": null}, "y2": {"field": "bottom"}}},
{"data": {"values": [{"depth": 1014.75}]},
 "mark": {"type": "rule", "color": "#ee2b2d", "strokeWidth": 5.5, "strokeDash": [3.6, 2.2]},
 "encoding": {"x": {"datum": -1.208, "type": "quantitative", "scale": {"domain": [-10.101, 30.872], "nice": false, "zero": false}, "axis": null}, "x2": {"datum": 0.537},
  "y": {"field": "depth", "type": "quantitative", "scale": {"domain": [258.9, 1087.25], "reverse": true, "nice": false, "zero": false}, "axis": null}}},
{"data": {"values": [{"label": "Hiatus", "pos": 1.745, "depth": 1014.75}, {"label": "MSAP", "pos": -1.208, "depth": 1043.9}, {"label": "Marmara sapropel, > 2% TOC", "pos": 1.745, "depth": 1043.9}, {"label": "Med. sap.", "pos": -1.275, "depth": 1073.1}, {"label": "Mediterranean sapropel", "pos": 1.745, "depth": 1073.1}]},
 "mark": {"type": "text", "fontSize": 16.5, "color": "#000000", "align": "left", "baseline": "middle"},
 "encoding": {"x": {"field": "pos", "type": "quantitative", "scale": {"domain": [-10.101, 30.872], "nice": false, "zero": false}, "axis": null},
  "y": {"field": "depth", "type": "quantitative", "scale": {"domain": [258.9, 1087.25], "reverse": true, "nice": false, "zero": false}, "axis": null}, "text": {"field": "label"}}}
]
}
